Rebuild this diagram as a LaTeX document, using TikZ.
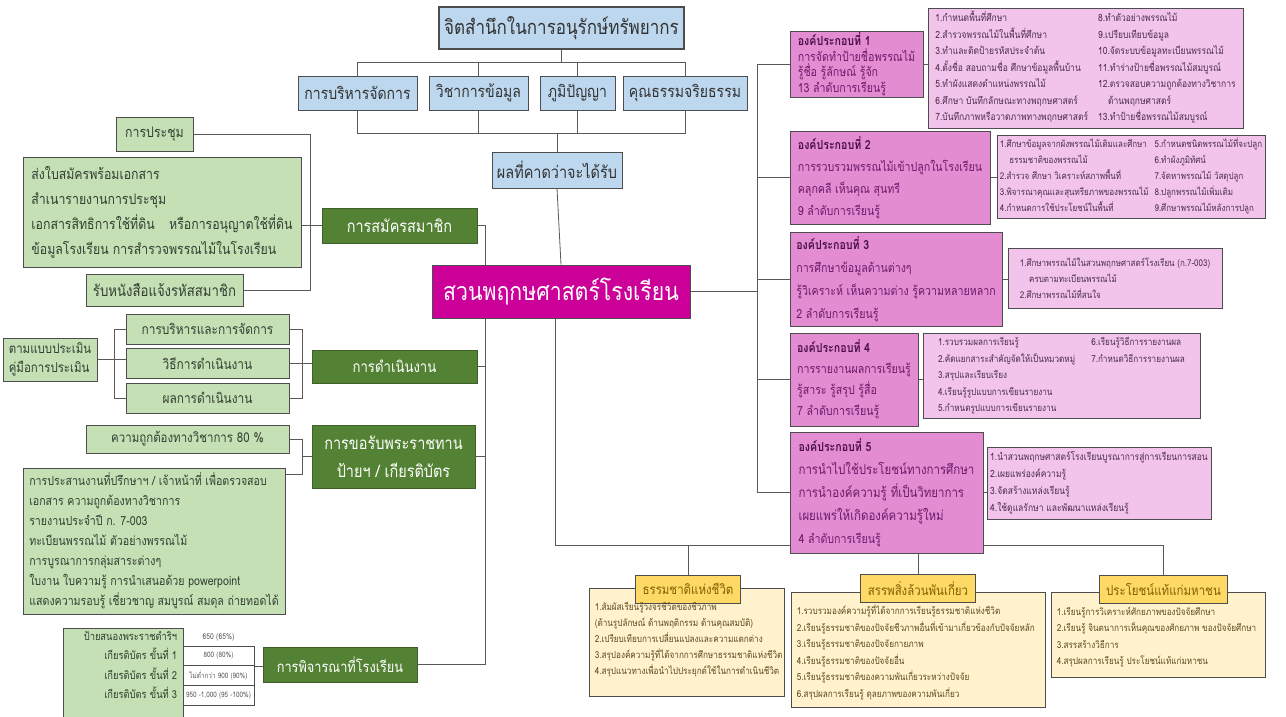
\documentclass[tikz,border=0pt]{standalone}
\usepackage{fontspec}
\newfontfamily\thai[Script=Thai, FakeStretch=0.85]{Loma}
\usetikzlibrary{backgrounds,calc}
\definecolor{bluefill}{HTML}{BDD7EE}
\definecolor{boxline}{HTML}{4D4D4D}
\definecolor{linegray}{HTML}{595959}
\definecolor{greenfill}{HTML}{C5E0B4}
\definecolor{darkgreen}{HTML}{548235}
\definecolor{magentafill}{HTML}{CC0099}
\definecolor{compfill}{HTML}{E48CD2}
\definecolor{listfill}{HTML}{F2C4EC}
\definecolor{comptext}{HTML}{6A1B6A}
\definecolor{compbold}{HTML}{4A0F4A}
\definecolor{listtext}{HTML}{4B2C4B}
\definecolor{creamfill}{HTML}{FFF2CC}
\definecolor{tabfill}{HTML}{FFD966}
\definecolor{tabtext}{HTML}{7F6000}
\definecolor{creamtext}{HTML}{5C4A1E}
\definecolor{greentext}{HTML}{333F33}
\definecolor{bluetext}{HTML}{333333}
\newcommand\fsz[2]{\fontsize{#1}{#2}\selectfont}
\tikzset{
  conn/.style={draw=linegray, line width=0.8pt},
  box/.style={draw=boxline, line width=0.8pt, inner sep=0pt, align=center},
  bluebox/.style={box, fill=bluefill, text=bluetext},
  greenbox/.style={box, fill=greenfill, text=greentext},
  darkbox/.style={box, fill=darkgreen, draw=darkgreen!75!black, text=white},
  compbox/.style={box, fill=compfill, text=comptext, align=left},
  listbox/.style={box, fill=listfill, text=listtext, align=left},
  creambox/.style={box, fill=creamfill},
  tabbox/.style={box, fill=tabfill, text=tabtext, inner xsep=7pt, minimum height=28pt},
  cell/.style={draw=boxline, line width=0.5pt, fill=white, text=linegray, inner sep=0pt, minimum width=71pt, minimum height=19.7pt}
}
\begin{document}
\begin{tikzpicture}[x=1pt,y=-1pt]
\useasboundingbox (0,0) rectangle (1286,717);

% top of the tree
\node[bluebox, line width=1.6pt, minimum width=245pt, minimum height=42pt, font=\thai\fsz{20}{24}] (t) at (561.5,28) {จิตสำนึกในการอนุรักษ์ทรัพยากร};
\foreach \n/\x/\w/\txt in {b1/357.5/119/การบริหารจัดการ, b2/478.5/99/วิชาการข้อมูล, b3/577.5/75/ภูมิปัญญา, b4/685/124/คุณธรรมจริยธรรม}
  \node[bluebox, minimum width=\w pt, minimum height=34pt, font=\thai\fsz{16.5}{20}] (\n) at (\x,93) {\txt};
\node[bluebox, minimum width=130pt, minimum height=36pt, font=\thai\fsz{17}{20}] (r) at (557,170) {ผลที่คาดว่าจะได้รับ};
\node[box, fill=magentafill, text=white, minimum width=258pt, minimum height=53pt, font=\thai\fsz{25}{30}] (s) at (561,291.5) {สวนพฤกษศาสตร์โรงเรียน};

% membership
\node[greenbox, minimum width=77pt, minimum height=34pt, font=\thai\fsz{14.5}{18}] (m1) at (154.5,134) {การประชุม};
\node[greenbox, align=left, minimum width=278pt, minimum height=110pt, font=\thai\fsz{14.5}{25}] (m2) at (162,212) {ส่งใบสมัครพร้อมเอกสาร\\สำเนารายงานการประชุม\\เอกสารสิทธิการใช้ที่ดิน\quad หรือการอนุญาตใช้ที่ดิน\\ข้อมูลโรงเรียน การสำรวจพรรณไม้ในโรงเรียน};
\node[greenbox, minimum width=157pt, minimum height=32pt, font=\thai\fsz{15.5}{18}] (m3) at (164.5,290) {รับหนังสือแจ้งรหัสสมาชิก};
\node[darkbox, minimum width=155pt, minimum height=35pt, font=\thai\fsz{17}{20}] (ms) at (399.5,225.5) {การสมัครสมาชิก};

% operation
\node[greenbox, align=left, minimum width=94pt, minimum height=43pt, font=\thai\fsz{13.5}{19}] (e0) at (50,359.5) {ตามแบบประเมิน\\คู่มือการประเมิน};
\foreach \n/\y/\txt in {e1/329/การบริหารและการจัดการ, e2/363.5/วิธีการดำเนินงาน, e3/398/ผลการดำเนินงาน}
  \node[greenbox, minimum width=163pt, minimum height=30pt, font=\thai\fsz{14}{18}] (\n) at (207.5,\y) {\txt};
\node[darkbox, minimum width=165pt, minimum height=33pt, font=\thai\fsz{15.5}{20}] (dn) at (394.5,366.5) {การดำเนินงาน};

% royal award
\node[greenbox, minimum width=203pt, minimum height=28pt, font=\thai\fsz{13.5}{17}] (a1) at (187.5,439) {ความถูกต้องทางวิชาการ 80 \%};
\node[greenbox, align=left, minimum width=262pt, minimum height=146pt, font=\thai\fsz{12.5}{20}] (a2) at (154,541) {การประสานงานที่ปรึกษาฯ / เจ้าหน้าที่ เพื่อตรวจสอบ\\เอกสาร ความถูกต้องทางวิชาการ\\รายงานประจำปี ก. 7-003\\ทะเบียนพรรณไม้ ตัวอย่างพรรณไม้\\การบูรณาการกลุ่มสาระต่างๆ\\ใบงาน ใบความรู้ การนำเสนอด้วย powerpoint\\แสดงความรอบรู้ เชี่ยวชาญ สมบูรณ์ สมดุล ถ่ายทอดได้};
\node[darkbox, minimum width=163pt, minimum height=63pt, font=\thai\fsz{17}{28}] (ak) at (393.5,456.5) {การขอรับพระราชทาน\\ป้ายฯ / เกียรติบัตร};

% judging at school
\node[greenbox, minimum width=120pt, minimum height=95pt, anchor=north] (p0) at (123,628) {};
\node[font=\thai\fsz{11}{19.5}, align=right, text=greentext, anchor=north east, inner sep=0pt] (p0t) at ($(p0.north east)+(-6,3)$) {ป้ายสนองพระราชดำริฯ\\เกียรติบัตร ขั้นที่ 1\\เกียรติบัตร ขั้นที่ 2\\เกียรติบัตร ขั้นที่ 3};
\node[font=\thai\fsz{8}{9}, text=linegray] (q0) at (218.5,637) {650 (65\%)};
\foreach \n/\y/\txt in {q1/655.8/800 (80\%), q2/675.5/ไม่ต่ำกว่า 900 (90\%), {q3/695.2/950 -1,000 (95 -100\%)}}
  \node[cell, font=\thai\fsz{7.5}{9}] (\n) at (218.5,\y) {\txt};
\node[darkbox, minimum width=154pt, minimum height=35pt, font=\thai\fsz{15}{20}] (pj) at (340,664.5) {การพิจารณาที่โรงเรียน};

% five components
\node[compbox, minimum width=133pt, minimum height=66pt, font=\thai\fsz{12.5}{15.5}] (c1) at (856.5,64) {\textcolor{compbold}{\bfseries องค์ประกอบที่ 1}\\การจัดทำป้ายชื่อพรรณไม้\\รู้ชื่อ รู้ลักษณ์ รู้จัก\\13 ลำดับการเรียนรู้};
\node[compbox, minimum width=200pt, minimum height=93pt, font=\thai\fsz{12.5}{22}] (c2) at (890,177.5) {\textcolor{compbold}{\bfseries องค์ประกอบที่ 2}\\การรวบรวมพรรณไม้เข้าปลูกในโรงเรียน\\คลุกคลี เห็นคุณ สุนทรี\\9 ลำดับการเรียนรู้};
\node[compbox, minimum width=212pt, minimum height=94pt, font=\thai\fsz{12.5}{23}] (c3) at (896,279) {\textcolor{compbold}{\bfseries องค์ประกอบที่ 3}\\การศึกษาข้อมูลด้านต่างๆ\\รู้วิเคราะห์ เห็นความต่าง รู้ความหลายหลาก\\2 ลำดับการเรียนรู้};
\node[compbox, minimum width=128pt, minimum height=93pt, font=\thai\fsz{12.5}{21}] (c4) at (854,379.5) {\textcolor{compbold}{\bfseries องค์ประกอบที่ 4}\\การรายงานผลการเรียนรู้\\รู้สาระ รู้สรุป รู้สื่อ\\7 ลำดับการเรียนรู้};
\node[compbox, minimum width=193pt, minimum height=121pt, font=\thai\fsz{13.5}{23}] (c5) at (886.5,492.5) {\textcolor{compbold}{\bfseries\fsz{12.5}{23}องค์ประกอบที่ 5}\\การนำไปใช้ประโยชน์ทางการศึกษา\\การนำองค์ความรู้ ที่เป็นวิทยาการ\\เผยแพร่ให้เกิดองค์ความรู้ใหม่\\{\fsz{12.5}{23}4 ลำดับการเรียนรู้}};

\node[listbox, minimum width=315pt, minimum height=120pt, font=\thai\fsz{10}{16.5}] (l1) at (1085.5,68) {\begin{tabular}{@{}l@{\hspace{10pt}}l@{}}
1.กำหนดพื้นที่ศึกษา & 8.ทำตัวอย่างพรรณไม้\\
2.สำรวจพรรณไม้ในพื้นที่ศึกษา & 9.เปรียบเทียบข้อมูล\\
3.ทำและติดป้ายรหัสประจำต้น & 10.จัดระบบข้อมูลทะเบียนพรรณไม้\\
4.ตั้งชื่อ สอบถามชื่อ ศึกษาข้อมูลพื้นบ้าน & 11.ทำร่างป้ายชื่อพรรณไม้สมบูรณ์\\
5.ทำผังแสดงตำแหน่งพรรณไม้ & 12.ตรวจสอบความถูกต้องทางวิชาการ\\
6.ศึกษา บันทึกลักษณะทางพฤกษศาสตร์ & \quad ด้านพฤกษศาสตร์\\
7.บันทึกภาพหรือวาดภาพทางพฤกษศาสตร์ & 13.ทำป้ายชื่อพรรณไม้สมบูรณ์
\end{tabular}};
\node[listbox, minimum width=268pt, minimum height=83pt, font=\thai\fsz{9.4}{16}] (l2) at (1131,176.5) {\begin{tabular}{@{}l@{\hspace{6pt}}l@{}}
1.ศึกษาข้อมูลจากผังพรรณไม้เดิมและศึกษา & 5.กำหนดชนิดพรรณไม้ที่จะปลูก\\
\quad ธรรมชาติของพรรณไม้ & 6.ทำผังภูมิทัศน์\\
2.สำรวจ ศึกษา วิเคราะห์สภาพพื้นที่ & 7.จัดหาพรรณไม้ วัสดุปลูก\\
3.พิจารณาคุณและสุนทรียภาพของพรรณไม้ & 8.ปลูกพรรณไม้เพิ่มเติม\\
4.กำหนดการใช้ประโยชน์ในพื้นที่ & 9.ศึกษาพรรณไม้หลังการปลูก
\end{tabular}};
\node[listbox, minimum width=214pt, minimum height=60pt, font=\thai\fsz{9.4}{16}] (l3) at (1115,278) {1.ศึกษาพรรณไม้ในสวนพฤกษศาสตร์โรงเรียน (ก.7-003)\\\quad ครบตามทะเบียนพรรณไม้\\2.ศึกษาพรรณไม้ที่สนใจ};
\node[listbox, minimum width=277pt, minimum height=85pt, font=\thai\fsz{9.6}{16.5}] (l4) at (1061.5,375.5) {\begin{tabular}{@{}l@{\hspace{16pt}}l@{}}
1.รวบรวมผลการเรียนรู้ & 6.เรียนรู้วิธีการรายงานผล\\
2.คัดแยกสาระสำคัญจัดให้เป็นหมวดหมู่ & 7.กำหนดวิธีการรายงานผล\\
3.สรุปและเรียบเรียง & \\
4.เรียนรู้รูปแบบการเขียนรายงาน & \\
5.กำหนดรูปแบบการเขียนรายงาน &
\end{tabular}};
\node[listbox, minimum width=224pt, minimum height=72pt, font=\thai\fsz{10}{17}] (l5) at (1099,483) {1.นำสวนพฤกษศาสตร์โรงเรียนบูรณาการสู่การเรียนการสอน\\2.เผยแพร่องค์ความรู้\\3.จัดสร้างแหล่งเรียนรู้\\4.ใช้ดูแลรักษา และพัฒนาแหล่งเรียนรู้};

% three outcomes
\node[creambox, minimum width=195pt, minimum height=108pt] (n1) at (686.5,642) {};
\node[creambox, minimum width=254pt, minimum height=115pt] (n2) at (918,649.5) {};
\node[creambox, minimum width=214pt, minimum height=85pt] (n3) at (1158,634.5) {};
\node[tabbox, font=\thai\fsz{13.5}{18}] (tb1) at (688,589) {ธรรมชาติแห่งชีวิต};
\node[tabbox, font=\thai\fsz{13.5}{18}] (tb2) at (918,588.5) {สรรพสิ่งล้วนพันเกี่ยว};
\node[tabbox, font=\thai\fsz{13.5}{18}] (tb3) at (1163.5,589) {ประโยชน์แท้แก่มหาชน};
\node[font=\thai\fsz{9.6}{16}, align=left, text=creamtext, anchor=north west, inner sep=0pt] (n1t) at ($(n1.north west)+(6,15)$) {1.สัมผัสเรียนรู้วงจรชีวิตของชีวภาพ\\(ด้านรูปลักษณ์ ด้านพฤติกรรม ด้านคุณสมบัติ)\\2.เปรียบเทียบการเปลี่ยนแปลงและความแตกต่าง\\3.สรุปองค์ความรู้ที่ได้จากการศึกษาธรรมชาติแห่งชีวิต\\4.สรุปแนวทางเพื่อนำไปประยุกต์ใช้ในการดำเนินชีวิต};
\node[font=\thai\fsz{9.6}{16.5}, align=left, text=creamtext, anchor=north west, inner sep=0pt] (n2t) at ($(n2.north west)+(6,13)$) {1.รวบรวมองค์ความรู้ที่ได้จากการเรียนรู้ธรรมชาติแห่งชีวิต\\2.เรียนรู้ธรรมชาติของปัจจัยชีวภาพอื่นที่เข้ามาเกี่ยวข้องกับปัจจัยหลัก\\3.เรียนรู้ธรรมชาติของปัจจัยกายภาพ\\4.เรียนรู้ธรรมชาติของปัจจัยอื่น\\5.เรียนรู้ธรรมชาติของความพันเกี่ยวระหว่างปัจจัย\\6.สรุปผลการเรียนรู้ ดุลยภาพของความพันเกี่ยว};
\node[font=\thai\fsz{9.6}{16.5}, align=left, text=creamtext, anchor=north west, inner sep=0pt] (n3t) at ($(n3.north west)+(6,15)$) {1.เรียนรู้การวิเคราะห์ศักยภาพของปัจจัยศึกษา\\2.เรียนรู้ จินตนาการเห็นคุณของศักยภาพ ของปัจจัยศึกษา\\3.สรรสร้างวิธีการ\\4.สรุปผลการเรียนรู้ ประโยชน์แท้แก่มหาชน};

% connectors
\begin{scope}[on background layer]
\fill[white] (0,0) rectangle (1286,717);
\coordinate (tb) at (561.5,62);
\draw[conn] (t.south) -- (tb);
\foreach \n in {b1,b2,b3,b4} \draw[conn] (tb) -| (\n.north);
\coordinate (bb) at (557,133);
\foreach \n in {b1,b2,b3,b4} \draw[conn] (\n.south) |- (bb);
\draw[conn] (bb) -- (r.north);
\draw[conn] (r.south) -- (s.north);
\draw[conn] (m1.east) -- ++(117,0) |- (m3.east);
\draw[conn] (m2.east |- ms.west) -- (ms.west);
\coordinate (lt) at (485,0);
\draw[conn] (ms.east) -| (lt |- pj.east) -- (pj.east);
\draw[conn] (dn.east) -- (dn.east -| lt);
\draw[conn] (ak.east) -- (ak.east -| lt);
\draw[conn] (e1.west) -- ++(-11,0) |- (e3.west);
\draw[conn] (e0.east) -- (e0.east -| e2.west);
\draw[conn] (e1.east) -- ++(13,0) |- (e3.east);
\draw[conn] (e2.east) -- (e2.east -| dn.west);
\draw[conn] (a1.east) -- ++(13,0) coordinate (k3) |- ($(a2.north east)+(0,7)$);
\draw[conn] (k3 |- ak.west) -- (ak.west);
\draw[conn] (q1.south east) -- (q1.south east -| pj.west);
\coordinate (rt) at (757,0);
\draw[conn] (s.east) -- (s.east -| rt);
\draw[conn] (c1.west -| rt) -- (c5.west -| rt);
\foreach \i in {1,...,5}{
  \draw[conn] (c\i.west -| rt) -- (c\i.west);
  \draw[conn] (c\i.east) -- (c\i.east -| l\i.west);
}
\coordinate (bt) at (555,545);
\draw[conn] (s.south -| bt) -- (bt);
\foreach \n in {tb1,tb2,tb3} \draw[conn] (bt) -| (\n.north);
\end{scope}
\end{tikzpicture}
\end{document}
